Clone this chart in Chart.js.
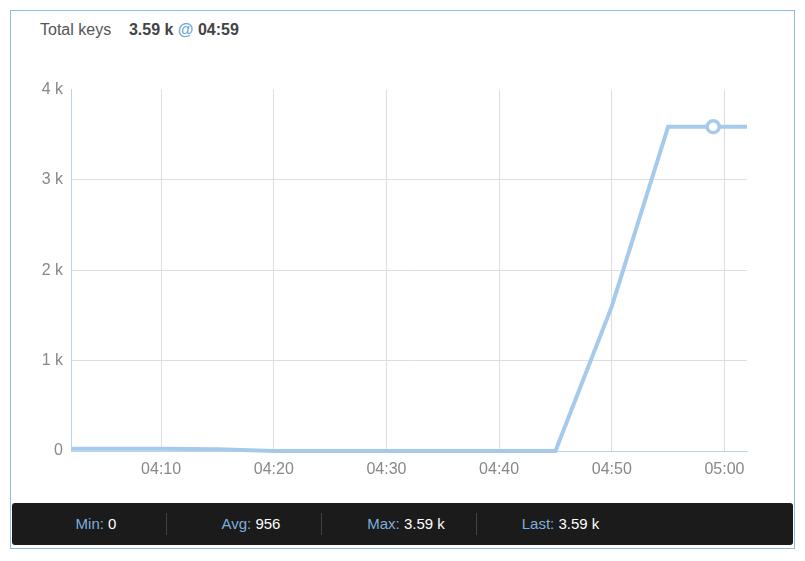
<!DOCTYPE html>
<html>
<head>
<meta charset="utf-8">
<script src="https://cdn.jsdelivr.net/npm/chart.js@4/dist/chart.umd.min.js"></script>
<style>
  html, body { margin: 0; padding: 0; background: #fff; }
  body { width: 805px; height: 561px; position: relative; font-family: "Liberation Sans", Arial, sans-serif; }
  .panel { position: absolute; left: 10px; top: 10px; width: 783px; height: 537px; border: 1px solid #8dbce4; }
  .title { position: absolute; left: 40px; top: 21px; font-size: 16px; color: #555; white-space: pre; }
  .title b { color: #444; }
  .title .at { color: #6ea8dc; font-weight: bold; }
  #wrap { position: absolute; left: 20px; top: 72px; width: 740px; height: 413px; }
  .footer { position: absolute; left: 12px; top: 503px; width: 781px; height: 42px; background: #1b1b1b; border-radius: 3px; display: flex; align-items: center; }
  .cell { width: 140px; padding-left: 14px; text-align: center; font-size: 15px; color: #fff; height: 22px; line-height: 22px; border-right: 1px solid #444; box-sizing: content-box; }
  .cell:last-child { border-right: none; }
  .cell span { color: #7eaedb; }
</style>
</head>
<body>
<div class="panel"></div>
<div class="title">Total keys    <b>3.59 k <span class="at">@</span> 04:59</b></div>
<div id="wrap"><canvas id="chart"></canvas></div>
<div class="footer">
  <div class="cell"><span>Min:</span> 0</div>
  <div class="cell"><span>Avg:</span> 956</div>
  <div class="cell"><span>Max:</span> 3.59 k</div>
  <div class="cell" style="width:139px"><span>Last:</span> 3.59 k</div>
</div>
<script>
// minutes after 04:00
var minutes = [0, 5, 10, 15, 20, 25, 30, 35, 40, 45, 50, 55, 60, 65];
var keys = [25, 25, 25, 20, 0, 0, 0, 0, 0, 0, 1600, 3590, 3590, 3590];
var markerMinute = [59];
var markerValue = [3590];
var xTicks = [10, 20, 30, 40, 50, 60];
var yTicks = [0, 1000, 2000, 3000, 4000];

var lineColor = '#a6caec';

function fmtTime(m) {
    var h = 4 + Math.floor(m / 60);
    var mm = m % 60;
    return (h < 10 ? '0' : '') + h + ':' + (mm < 10 ? '0' : '') + mm;
}

new Chart(document.getElementById('chart'), {
    type: 'line',
    data: {
        datasets: [
            {
                data: markerMinute.map(function (m, i) { return { x: m, y: markerValue[i] }; }),
                borderColor: lineColor,
                backgroundColor: '#fff',
                pointRadius: 6,
                pointBorderWidth: 3.5,
                showLine: false,
                clip: false
            },
            {
                data: minutes.map(function (m, i) { return { x: m, y: keys[i] }; }),
                borderColor: lineColor,
                borderWidth: 4,
                pointRadius: 0,
                tension: 0,
                fill: false,
                clip: { left: 0, right: 0, top: 5, bottom: 5 }
            }
        ]
    },
    options: {
        responsive: true,
        maintainAspectRatio: false,
        animation: false,
        layout: { padding: { top: 14, right: 13, left: 0, bottom: 0 } },
        plugins: { legend: { display: false }, tooltip: { enabled: false } },
        scales: {
            x: {
                type: 'linear',
                min: 2,
                max: 62,
                afterBuildTicks: function (axis) {
                    axis.ticks = xTicks.map(function (v) { return { value: v }; });
                },
                afterFit: function (axis) { axis.height = 34; },
                ticks: {
                    color: '#888',
                    padding: 9,
                    maxRotation: 0,
                    font: { family: 'Liberation Sans', size: 16 },
                    callback: function (v) { return fmtTime(v); }
                },
                grid: { color: '#dedede', drawTicks: false },
                border: { color: '#b9d5ee', width: 1 }
            },
            y: {
                min: 0,
                max: 4000,
                afterBuildTicks: function (axis) {
                    axis.ticks = yTicks.map(function (v) { return { value: v }; });
                },
                afterFit: function (axis) { axis.width = 51; },
                ticks: {
                    color: '#888',
                    padding: 8,
                    font: { family: 'Liberation Sans', size: 16 },
                    callback: function (v) { return v === 0 ? '0' : (v / 1000) + ' k'; }
                },
                grid: {
                    drawTicks: false,
                    color: function (ctx) { return ctx.tick && ctx.tick.value === 4000 ? 'rgba(0,0,0,0)' : '#dedede'; }
                },
                border: { color: '#b9d5ee', width: 1 }
            }
        }
    }
});
</script>
</body>
</html>
